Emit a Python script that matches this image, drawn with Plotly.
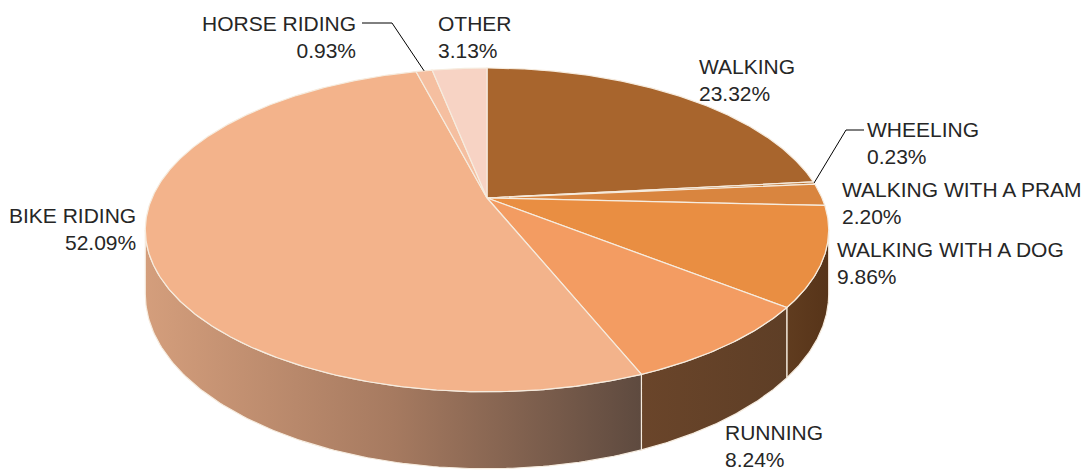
import numpy as np
import plotly.graph_objects as go

# share of trips by activity, clockwise from 12 o'clock
categories = ["WALKING", "WHEELING", "WALKING WITH A PRAM", "WALKING WITH A DOG",
              "RUNNING", "BIKE RIDING", "HORSE RIDING", "OTHER"]
values = [23.32, 0.23, 2.20, 9.86, 8.24, 52.09, 0.93, 3.13]
pct_labels = ["23.32%", "0.23%", "2.20%", "9.86%", "8.24%", "52.09%", "0.93%", "3.13%"]

top_colors = ["#a8652d", "#bd7637", "#d9853f", "#e98e42",
              "#f39c62", "#f3b38b", "#f5bfa0", "#f7d3c4"]
side_scales = {
    "WALKING WITH A DOG": [[0, "#603c1f"], [1, "#573419"]],
    "RUNNING": [[0, "#6a452a"], [1, "#5e3e26"]],
    "BIKE RIDING": [[0, "#d49e7c"], [0.5, "#a67a60"], [1, "#5e4a3f"]],
}

# fake-perspective disc, in page pixel units
cx, cy = 487, 198
A, B = 335, 155.6
p = 0.197
H = 61.8
edge = "#f6ecdf"
PAGE_OFF = 8  # default body margin of the html page


def proj(theta, level=0.0):
    t = np.radians(theta)
    x, z = np.sin(t), np.cos(t)
    k = 1 + p * z
    return cx + A * x / k, cy - B * z / k + level * H / k


fig = go.Figure()

bounds = np.concatenate([[0], np.cumsum(values) / sum(values) * 360])
vis_lo = np.degrees(np.arccos(-p))
vis_hi = 360 - vis_lo

# side walls (front half only)
for i, name in enumerate(categories):
    a, b = max(bounds[i], vis_lo), min(bounds[i + 1], vis_hi)
    if b <= a:
        continue
    th = np.linspace(a, b, 120)
    tx, ty = proj(th, 0)
    bx, by = proj(th[::-1], 1)
    xs = np.concatenate([tx, bx, tx[:1]])
    ys = np.concatenate([ty, by, ty[:1]])
    fig.add_trace(go.Scatter(
        x=xs, y=ys, mode="lines", fill="toself",
        fillgradient=dict(type="horizontal", colorscale=side_scales[name]),
        line=dict(color=edge, width=1.2), hoverinfo="skip", showlegend=False))

# top face
for i, name in enumerate(categories):
    th = np.linspace(bounds[i], bounds[i + 1], max(3, int((bounds[i + 1] - bounds[i]) * 3)))
    tx, ty = proj(th, 0)
    xs = np.concatenate([[cx], tx, [cx]])
    ys = np.concatenate([[cy], ty, [cy]])
    fig.add_trace(go.Scatter(
        x=xs, y=ys, mode="lines", fill="toself", fillcolor=top_colors[i],
        line=dict(color=edge, width=1.2), hoverinfo="skip", showlegend=False))

# label placement: (x, y of block centre, anchor)
label_pos = {
    "WALKING": (697, 80, "left"),
    "WHEELING": (865, 143, "left"),
    "WALKING WITH A PRAM": (840, 203, "left"),
    "WALKING WITH A DOG": (835, 263, "left"),
    "RUNNING": (723, 446, "left"),
    "BIKE RIDING": (138, 229, "right"),
    "HORSE RIDING": (358, 37, "right"),
    "OTHER": (436, 37, "left"),
}
for i, name in enumerate(categories):
    x, y, anc = label_pos[name]
    fig.add_annotation(
        x=x, y=y, xref="x", yref="y", text=f"{name}<br>{pct_labels[i]}",
        showarrow=False, xanchor=anc, yanchor="middle", align=anc,
        font=dict(family="Liberation Sans, Arial, sans-serif", size=21, color="#262626"))

# leader lines for the thin slices
leaders = {"WHEELING": (864, 846, 130), "HORSE RIDING": (362, 392, 23)}
for name, (x0, x1, yl) in leaders.items():
    i = categories.index(name)
    ex, ey = proj((bounds[i] + bounds[i + 1]) / 2, 0)
    fig.add_trace(go.Scatter(
        x=[x0, x1, ex], y=[yl, yl, ey], mode="lines",
        line=dict(color="#000000", width=1), hoverinfo="skip", showlegend=False))

fig.update_layout(
    width=1091 - PAGE_OFF, height=470 - PAGE_OFF,
    margin=dict(l=0, r=0, t=0, b=0),
    paper_bgcolor="white", plot_bgcolor="white",
    xaxis=dict(range=[PAGE_OFF, 1091], visible=False, fixedrange=True),
    yaxis=dict(range=[470, PAGE_OFF], visible=False, fixedrange=True),
    showlegend=False,
)

fig.write_html("out.html")
